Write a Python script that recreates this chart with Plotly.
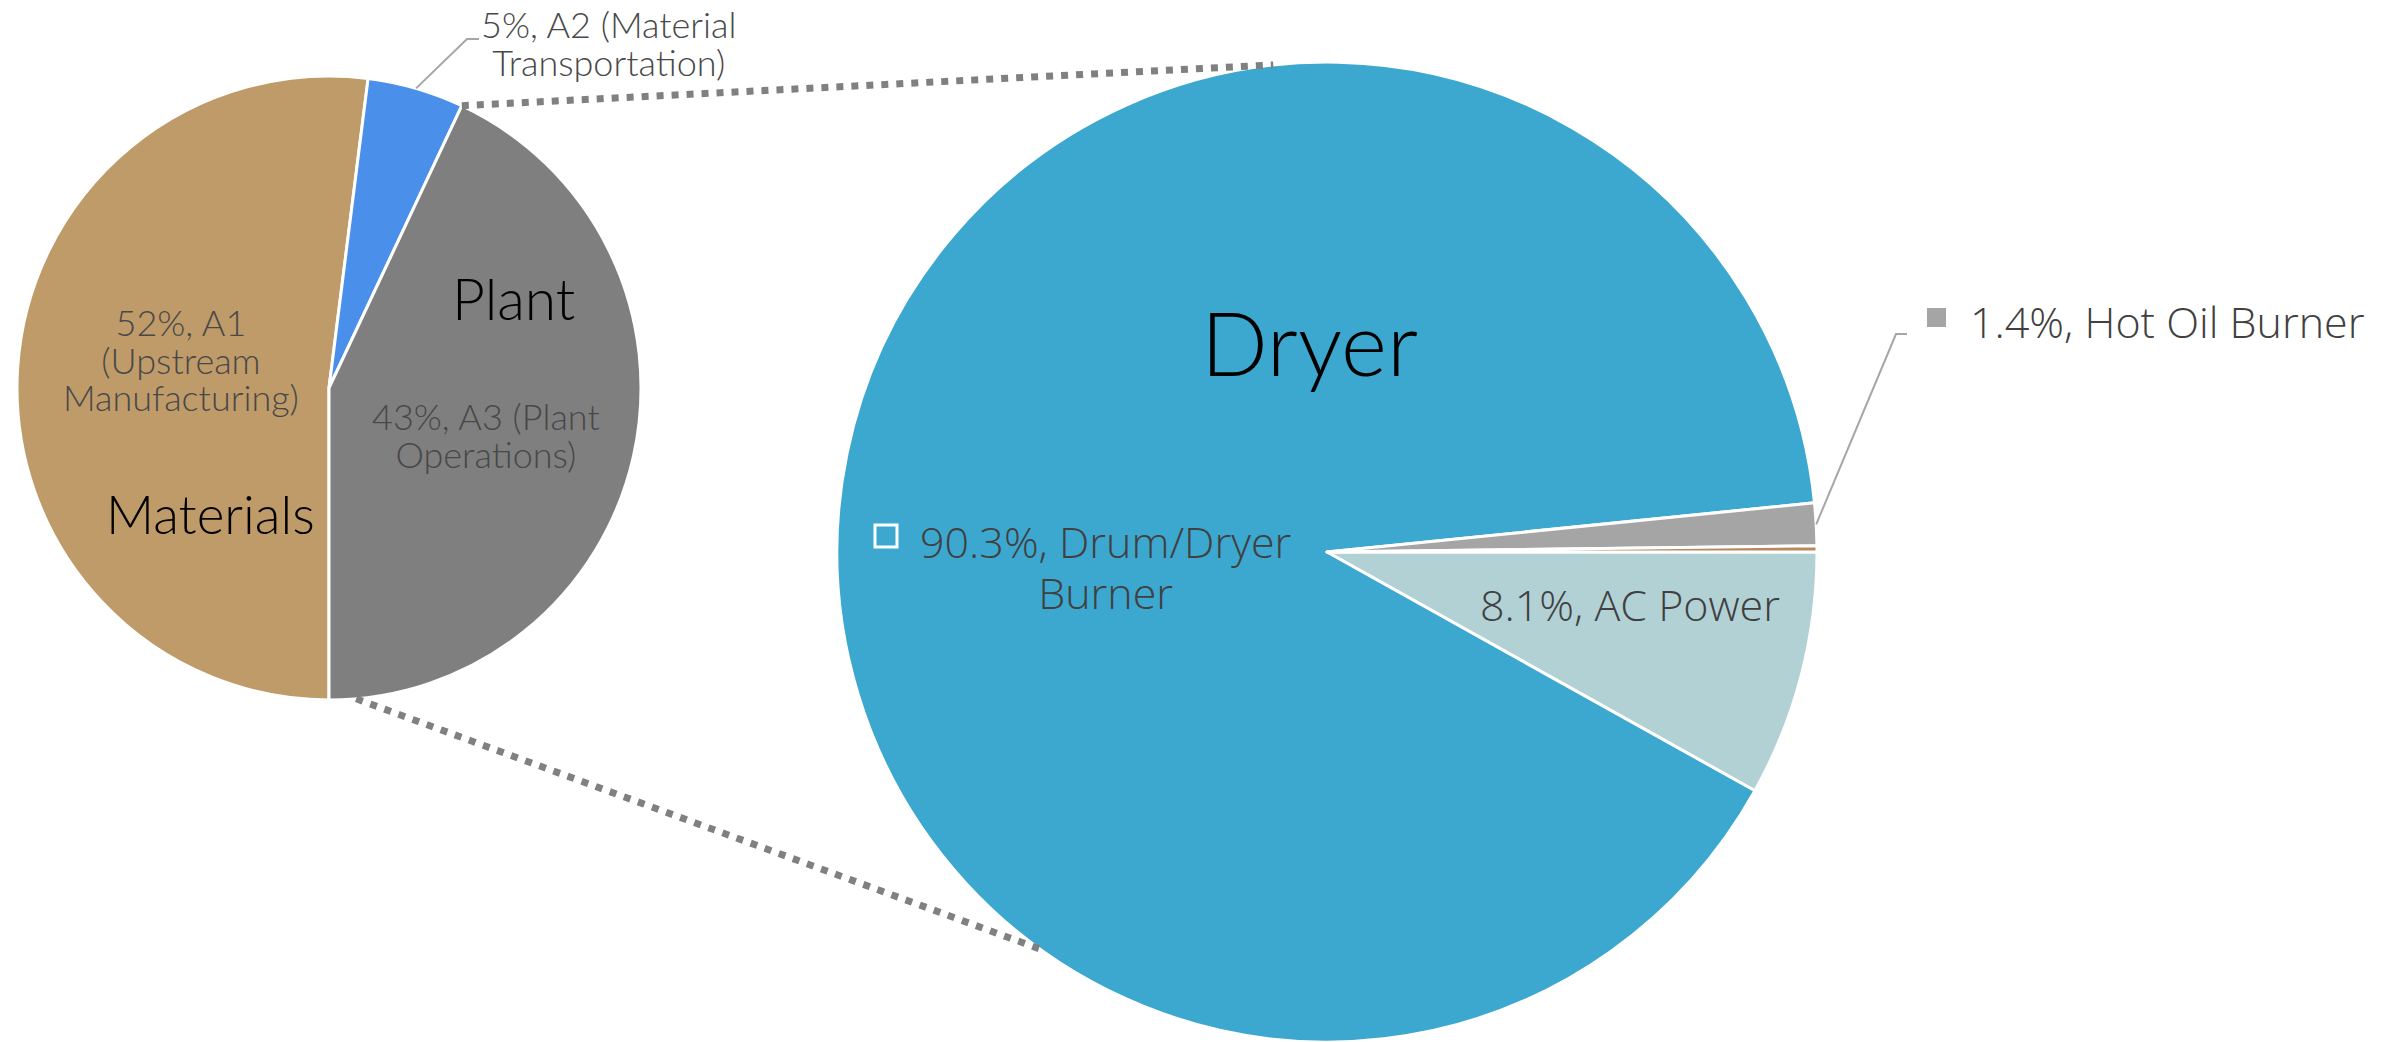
import math
import plotly.graph_objects as go

# ---------------- data ----------------
main_labels = ["A1 (Upstream Manufacturing)", "A2 (Material Transportation)", "A3 (Plant Operations)"]
main_values = [52, 5, 43]
main_colors = ["#BF9B6A", "#4A8FEA", "#7F7F7F"]

plant_labels = ["AC Power", "Drum/Dryer Burner", "Hot Oil Burner", "Other"]
plant_values = [8.1, 90.3, 1.4, 0.2]
plant_colors = ["#B2D1D5", "#3CA8CF", "#A5A5A5", "#B8895C"]

# ---------------- geometry (pixels) ----------------
W, H = 2382, 1042
L_CX, L_CY, L_R = 329, 388, 312
R_CX, R_CY, R_R = 1327, 552, 490


def px(x):
    return x / W


def py(y):
    return 1 - y / H


def on_circle(cx, cy, r, clock_deg):
    a = math.radians(clock_deg)
    return cx + r * math.sin(a), cy - r * math.cos(a)


fig = go.Figure()
fig.add_trace(go.Pie(
    labels=main_labels, values=main_values, sort=False,
    direction="clockwise", rotation=180,
    marker=dict(colors=main_colors, line=dict(color="white", width=3)),
    textinfo="none", hoverinfo="label+percent", showlegend=False,
    domain=dict(x=[px(L_CX - L_R), px(L_CX + L_R)],
                y=[py(L_CY + L_R), py(L_CY - L_R)]),
))
fig.add_trace(go.Pie(
    labels=plant_labels, values=plant_values, sort=False,
    direction="clockwise", rotation=90,
    marker=dict(colors=plant_colors, line=dict(color="white", width=3)),
    textinfo="none", hoverinfo="label+percent", showlegend=False,
    domain=dict(x=[px(R_CX - R_R), px(R_CX + R_R)],
                y=[max(0, py(R_CY + R_R)), py(R_CY - R_R)]),
))

# angles derived from data
tot = sum(main_values)
a_split = 180 + 360 * (main_values[0] + main_values[1]) / tot  # A2/A3 boundary
a_a2mid = 180 + 360 * (main_values[0] + main_values[1] / 2) / tot
ptot = sum(plant_values)
a_hot_mid = 90 + 360 * (plant_values[0] + plant_values[1] + plant_values[2] / 2) / ptot

shapes = []
# dotted connector lines
x0, y0 = on_circle(L_CX, L_CY, L_R, a_split)
x1, y1 = on_circle(R_CX, R_CY, R_R, -6.3)
x2, y2 = on_circle(L_CX, L_CY, L_R, 175)
x3, y3 = on_circle(R_CX, R_CY, R_R, 215.9)
for (ax, ay, bx, by) in [(x0, y0, x1, y1), (x2, y2, x3, y3)]:
    shapes.append(dict(type="line", xref="paper", yref="paper",
                       x0=px(ax), y0=py(ay), x1=px(bx), y1=py(by),
                       line=dict(color="#808080", width=7, dash="7px,8px")))

# leader lines
lx, ly = on_circle(L_CX, L_CY, L_R, a_a2mid)
shapes.append(dict(type="path", xref="paper", yref="paper",
                   path=f"M {px(lx)},{py(ly)} L {px(467)},{py(39)} L {px(479)},{py(39)}",
                   line=dict(color="#A6A6A6", width=2)))
hx, hy = on_circle(R_CX, R_CY, R_R, a_hot_mid)
shapes.append(dict(type="path", xref="paper", yref="paper",
                   path=f"M {px(hx)},{py(hy)} L {px(1896)},{py(334)} L {px(1907)},{py(334)}",
                   line=dict(color="#A6A6A6", width=2)))

# legend-key squares in data labels
shapes.append(dict(type="rect", xref="paper", yref="paper",
                   x0=px(875), x1=px(897), y0=py(547), y1=py(525),
                   line=dict(color="white", width=3), fillcolor="rgba(0,0,0,0)"))
shapes.append(dict(type="rect", xref="paper", yref="paper",
                   x0=px(1927), x1=px(1946), y0=py(327), y1=py(308),
                   line=dict(width=0), fillcolor="#A5A5A5"))

GOTHIC = "Lato, 'Open Sans', sans-serif"
SANS = "'Open Sans', Roboto, sans-serif"


def ann(x, y, lines, size, color="#404040", family=GOTHIC, weight=300, base=None):
    """Multi-line label; base font sets line spacing, span sets glyph size."""
    if base is None:
        base = size
    text = "<br>".join(f"<span style='font-size:{size}px'>{t}</span>" for t in lines)
    return dict(x=px(x), y=py(y), xref="paper", yref="paper", text=text,
                showarrow=False, xanchor="center", yanchor="middle", align="center",
                font=dict(family=family, size=base, color=color, weight=weight))


LBL = "#484848"
annotations = [
    ann(608, 43, ["5%, A2 (Material", "Transportation)"], 36, LBL, base=29),
    ann(181, 359, ["52%, A1", "(Upstream", "Manufacturing)"], 36, LBL, base=29),
    ann(486, 435, ["43%, A3 (Plant", "Operations)"], 36, LBL, base=29),
    ann(513, 298, ["Plant"], 57, "#000000"),
    ann(210, 513, ["Materials"], 53, "#000000"),
    ann(1309, 342, ["Dryer"], 88, "#000000"),
    ann(1106, 567, ["90.3%, Drum/Dryer", "Burner"], 43, "#404040", SANS, base=39),
    ann(1630, 604, ["8.1%, AC Power"], 43, "#404040", SANS),
    ann(2167, 321, ["1.4%, Hot Oil Burner"], 43, "#404040", SANS),
]

fig.update_layout(
    width=W, height=H,
    margin=dict(l=0, r=0, t=0, b=0),
    paper_bgcolor="white", plot_bgcolor="white",
    shapes=shapes, annotations=annotations,
    showlegend=False,
)

fig.write_html("out.html")
